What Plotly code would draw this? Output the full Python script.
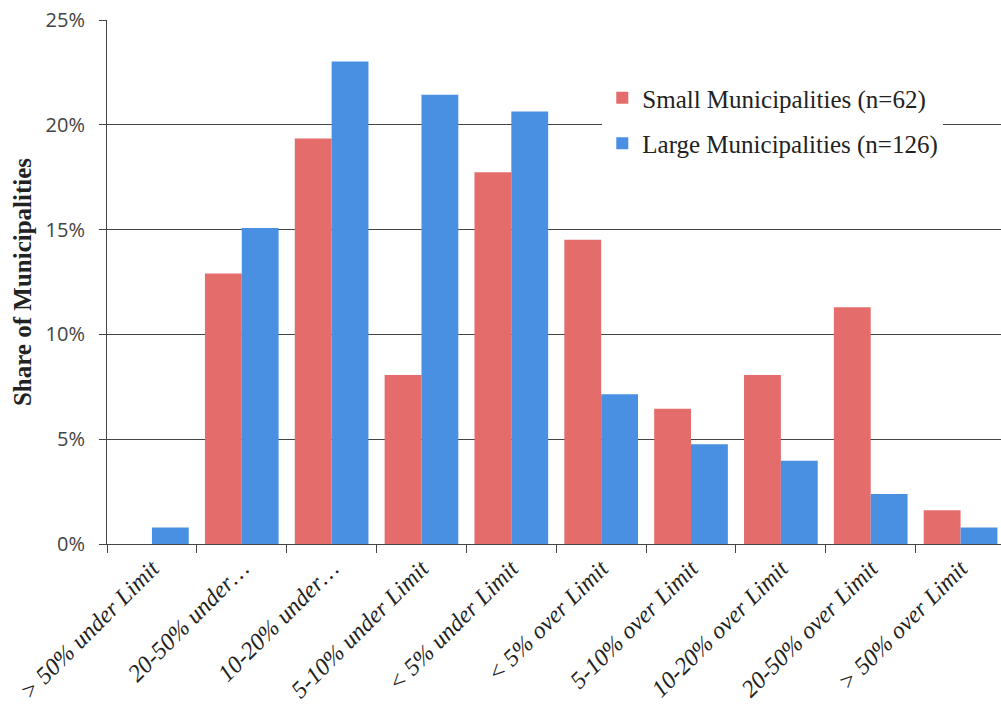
import plotly.graph_objects as go

categories = ["> 50% under Limit", "20-50% under…", "10-20% under…", "5-10% under Limit",
              "< 5% under Limit", "< 5% over Limit", "5-10% over Limit", "10-20% over Limit",
              "20-50% over Limit", "> 50% over Limit"]
small_share = [0.0, 0.1290, 0.1935, 0.0806, 0.1774, 0.1452, 0.0645, 0.0806, 0.1129, 0.0161]
large_share = [0.0079, 0.1508, 0.2302, 0.2143, 0.2063, 0.0714, 0.0476, 0.0397, 0.0238, 0.0079]
series_names = ["Small Municipalities (n=62)", "Large Municipalities (n=126)"]
y_ticks = [0, 0.05, 0.10, 0.15, 0.20, 0.25]

RED = "#E46C6B"
BLUE = "#4A90E2"

fig = go.Figure()
fig.add_trace(go.Bar(x=categories, y=small_share, name=series_names[0],
                     marker=dict(color=RED, line=dict(width=0)), legendgroup="a"))
fig.add_trace(go.Bar(x=categories, y=large_share, name=series_names[1],
                     marker=dict(color=BLUE, line=dict(width=0)), legendgroup="b"))

fig.update_layout(
    width=1001, height=727,
    margin=dict(l=107, r=0, t=20, b=183, pad=0),
    paper_bgcolor="white", plot_bgcolor="white",
    barmode="group", bargap=0.18, bargroupgap=0,
    showlegend=True,
    legend=dict(x=0.554, y=0.895, xanchor="left", yanchor="top",
                bgcolor="white", borderwidth=0,
                font=dict(family="Liberation Serif", size=25, color="#222"),
                traceorder="grouped", tracegroupgap=10),
    xaxis=dict(type="category", range=[-0.5, 9.45], automargin=False,
               tickvals=categories, ticktext=[f"<i>{c}</i>" for c in categories],
               showgrid=False, showline=True, linecolor="#444", linewidth=1,
               ticks="outside", tickson="boundaries", ticklen=8, tickcolor="#444",
               tickangle=-45,
               tickfont=dict(family="Liberation Serif, DejaVu Serif, serif", size=24,
                             color="#222", style="italic")),
    yaxis=dict(range=[0, 0.25], tickvals=y_ticks, tickformat=".0%", automargin=False,
               ticklabelstandoff=10,
               showgrid=True, gridcolor="#444", gridwidth=1,
               showline=True, linecolor="#444", linewidth=1,
               ticks="outside", ticklen=7, tickcolor="#444",
               tickfont=dict(family="Open Sans", size=20, color="#444"),
               zeroline=False,
               title=dict(text="Share of Municipalities", standoff=6,
                          font=dict(family="Liberation Serif", size=25, color="#222", weight="bold"))),
)

fig.write_html("out.html")
